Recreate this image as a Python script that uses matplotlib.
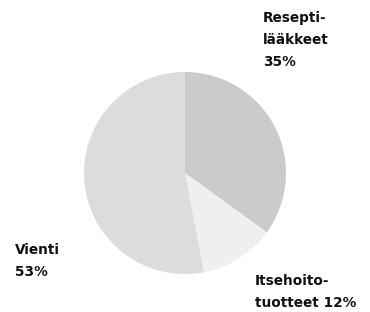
import matplotlib
matplotlib.use("Agg")
import matplotlib.pyplot as plt

categories = ["Resepti-\nlääkkeet", "Itsehoito-\ntuotteet", "Vienti"]
values = [35, 12, 53]
colors = ["#cbcbcb", "#efefef", "#dcdcdc"]

W, H = 370, 312
fig = plt.figure(figsize=(W / 100, H / 100), dpi=100)
cx, cy, r = 185, 173, 101
ax = fig.add_axes([(cx - r) / W, (H - cy - r) / H, 2 * r / W, 2 * r / H])
ax.pie(values, colors=colors, startangle=90, counterclock=False, radius=1,
       wedgeprops=dict(linewidth=0))
ax.set_xlim(-1, 1)
ax.set_ylim(-1, 1)
ax.set_aspect("equal")
ax.axis("off")

font = dict(family="DejaVu Sans", fontsize=9.8, fontweight="bold", color="#111111",
            linespacing=1.7, ha="left", va="center")
labels = [f"{categories[0]}\n{values[0]}%",
          f"{categories[1]} {values[1]}%",
          f"{categories[2]}\n{values[2]}%"]
pos = [(263, 40), (255, 292), (15, 261)]
for lab, (x, y) in zip(labels, pos):
    fig.text(x / W, 1 - y / H, lab, **font)

fig.savefig("out.png", dpi=100, facecolor="white")
